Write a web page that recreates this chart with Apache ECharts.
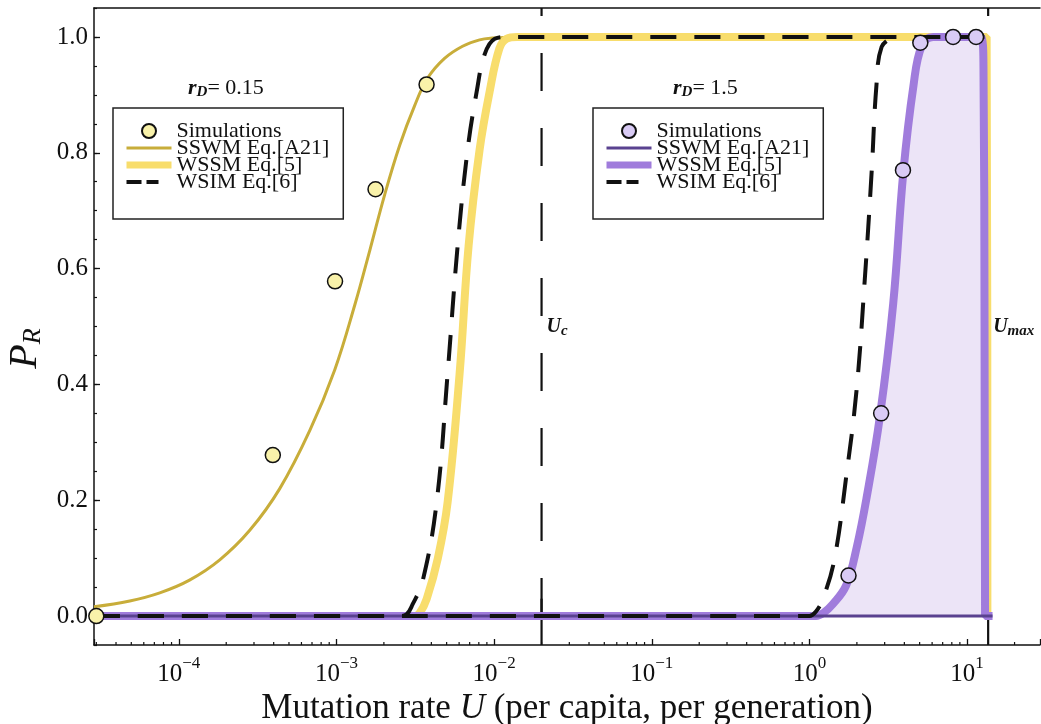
<!DOCTYPE html>
<html>
<head>
<meta charset="utf-8">
<script src="https://cdn.jsdelivr.net/npm/echarts@6/dist/echarts.min.js"></script>
<style>
  html, body { margin: 0; padding: 0; background: #fff; }
  #chart { width: 1041px; height: 724px; }
</style>
</head>
<body>
<div id="chart"></div>
<script>
const FONT = '"Liberation Serif", "DejaVu Serif", serif';

// axis ranges (U on a log axis, P_R linear)
const uMin = 2.9e-5;
const uMax = 29;
const pMin = -0.05;
const pMax = 1.05;
const Uc = 0.02;
const Umax = 13.6;

const yMajorTicks = [0, 0.2, 0.4, 0.6, 0.8, 1.0];

// r_D = 0.15 (yellow)
const sswmLowU = [2.9e-5, 4.89e-5, 7.58e-5, 1.17e-4, 1.82e-4, 2.82e-4, 4.37e-4, 6.77e-4, 9.75e-4, 1.31e-3,
  1.63e-3, 2.02e-3, 2.52e-3, 3.13e-3, 3.79e-3, 4.85e-3, 6.31e-3, 8.09e-3, 9.78e-3, 1.45e-2, 13.3, 13.5];
const sswmLowP = [0.016, 0.026, 0.040, 0.062, 0.097, 0.148, 0.22, 0.32, 0.425, 0.538,
  0.632, 0.727, 0.813, 0.881, 0.929, 0.963, 0.984, 0.995, 0.998, 1.0, 1.0, 0];

const wssmLowU = [2.9e-5, 3.13e-3, 3.37e-3, 3.74e-3, 4.4e-3, 5.07e-3, 6.04e-3, 6.89e-3, 8.09e-3, 9.36e-3,
  1.08e-2, 1.2e-2, 1.4e-2, 13.3, 13.45];
const wssmLowP = [0, 0, 0.005, 0.03, 0.10, 0.196, 0.418, 0.639, 0.805, 0.905,
  0.98, 0.997, 1.0, 1.0, 0];

const wsimLowU = [2.9e-5, 2.52e-3, 2.79e-3, 3.04e-3, 3.52e-3, 4.32e-3, 5.07e-3, 5.87e-3, 6.79e-3, 7.75e-3,
  8.71e-3, 1.01e-2, 1.2e-2, 13.6];
const wsimLowP = [0, 0, 0.003, 0.02, 0.06, 0.196, 0.418, 0.639, 0.805, 0.905,
  0.97, 0.997, 1.0, 1.0];

const simLowU = [3.0e-5, 3.95e-4, 9.8e-4, 1.77e-3, 3.73e-3];
const simLowP = [0, 0.278, 0.578, 0.737, 0.918];

// r_D = 1.5 (purple)
const sswmHighU = [2.9e-5, 14.5];
const sswmHighP = [0, 0];

const wssmHighU = [2.9e-5, 1.1, 1.22, 1.4, 1.71, 2.0, 2.3, 2.8, 3.4, 3.94,
  4.57, 5.16, 6.1, 8, 12.2, 12.7, 12.9, 13.0, 14.5];
const wssmHighP = [0, 0, 0.005, 0.02, 0.053, 0.12, 0.203, 0.345, 0.54, 0.766,
  0.916, 0.985, 1.0, 1.0, 1.0, 0.95, 0.5, 0, 0];

const wsimHighU = [2.9e-5, 1.0, 1.1, 1.22, 1.44, 1.71, 1.99, 2.24, 2.48, 2.66, 2.87, 3.4];
const wsimHighP = [0, 0, 0.008, 0.03, 0.098, 0.24, 0.39, 0.578, 0.766, 0.916, 0.983, 1.0];

const simHighU = [1.77, 2.85, 3.92, 5.05, 8.15, 11.4];
const simHighP = [0.07, 0.35, 0.77, 0.99, 1.0, 1.0];

const markerU = [Uc, Umax];
const markerLabels = ['{u|U}{s|c}', '{u|U}{s|max}'];

const legendLow = ['Simulations', 'SSWM Eq.[A21]', 'WSSM Eq.[5]', 'WSIM Eq.[6]'];
const legendHigh = legendLow.map(n => n + ' (rD=1.5)');

// minor ticks of the log axis: 2..9 in every decade
const minorTicks = [];
for (let e = -5; e <= 1; e++) {
  for (let k = 2; k <= 9; k++) {
    const v = k * Math.pow(10, e);
    if (v > uMin && v < uMax) minorTicks.push(v);
  }
}

const pair = (us, ps) => us.map((u, i) => [u, ps[i]]);

function curve(name, us, ps, color, width, extra) {
  return Object.assign({
    name, type: 'line', data: pair(us, ps), symbol: 'none',
    smooth: 0.4, silent: true,
    lineStyle: { color, width }, itemStyle: { color }
  }, extra || {});
}

function sims(name, us, ps, fill) {
  return {
    name, type: 'scatter', data: pair(us, ps), symbol: 'circle', symbolSize: 15, silent: true,
    itemStyle: { color: fill, borderColor: '#111', borderWidth: 1.5, opacity: 1 }, z: 5
  };
}

const dash = [26, 18];
const legendLineStyles = [null, { width: 3 }, { width: 7 }, { width: 4, type: [12, 14, 19, 5] }];

function legendBox(names, left) {
  return {
    orient: 'vertical', left, top: 108, selectedMode: false,
    padding: [12, 14, 26, 10], borderColor: '#222', borderWidth: 1.5,
    itemWidth: 45, itemHeight: 14, itemGap: -5, itemTextGap: 2,
    textStyle: { fontFamily: FONT, fontSize: 22, color: '#111' },
    formatter: n => n.split(' (')[0],
    data: names.map((n, i) => i === 0 ? { name: n }
      : { name: n, itemStyle: { opacity: 0 }, lineStyle: legendLineStyles[i] })
  };
}

const chart = echarts.init(document.getElementById('chart'), null, { renderer: 'canvas' });

chart.setOption({
  animation: false,
  backgroundColor: '#fff',
  grid: { left: 94, right: 1, top: 8, bottom: 79, outerBoundsMode: 'none' },
  legend: [legendBox(legendLow, 113), legendBox(legendHigh, 593)],
  xAxis: [{
    type: 'log', logBase: 10, min: uMin, max: uMax,
    name: 'Mutation rate {i|U} (per capita, per generation)',
    nameLocation: 'middle', nameGap: 46, nameMoveOverlap: false,
    nameTextStyle: { fontFamily: FONT, fontSize: 35, color: '#111',
      rich: { i: { fontFamily: FONT, fontSize: 35, fontStyle: 'italic', color: '#111' } } },
    axisLine: { onZero: false, lineStyle: { color: '#111', width: 1.5 } },
    axisTick: { inside: true, length: 6, lineStyle: { color: '#111', width: 1.3 } },
    axisLabel: {
      margin: 5, color: '#111',
      formatter: v => {
        const l = Math.log10(v);
        const e = Math.round(l);
        if (Math.abs(l - e) > 1e-6) return '';
        return '{b|10}{s|' + (e < 0 ? '\u2212' + (-e) : e) + '}';
      },
      rich: {
        b: { fontFamily: FONT, fontSize: 25, color: '#111', padding: [12, 0, 0, 0] },
        s: { fontFamily: FONT, fontSize: 17, color: '#111', padding: [0, 0, 10, 0] }
      }
    },
    splitLine: { show: false }
  }, {
    type: 'log', logBase: 10, min: uMin, max: uMax, position: 'top',
    axisLine: { onZero: false, lineStyle: { color: '#111', width: 1.5 } },
    axisTick: { show: false }, axisLabel: { show: false }, splitLine: { show: false }
  }],
  yAxis: [{
    type: 'value', min: pMin, max: pMax,
    name: '{p|P}{r|R}', nameLocation: 'middle', nameGap: 42,
    nameTextStyle: { padding: [0, 44, 0, 0], rich: {
      p: { fontFamily: FONT, fontSize: 40, fontStyle: 'italic', color: '#111' },
      r: { fontFamily: FONT, fontSize: 26, fontStyle: 'italic', color: '#111', padding: [14, 0, 0, 0] }
    } },
    axisLine: { onZero: false, lineStyle: { color: '#111', width: 1.5 } },
    axisTick: { inside: true, length: 6, customValues: yMajorTicks, lineStyle: { color: '#111', width: 1.3 } },
    axisLabel: { customValues: yMajorTicks, margin: 6, fontFamily: FONT, fontSize: 25, color: '#111',
      formatter: v => v.toFixed(1) },
    splitLine: { show: false }
  }, {
    type: 'value', min: pMin, max: pMax, interval: 0.05, position: 'left',
    axisLine: { show: false },
    axisTick: { inside: true, length: 3, lineStyle: { color: '#111', width: 1.2 } },
    axisLabel: { show: false }, splitLine: { show: false }
  }],
  graphic: [
    { type: 'text', x: 188, y: 88, style: { text: '{r|r}{d|D}{t|= 0.15}', verticalAlign: 'middle',
      rich: {
        r: { fontFamily: FONT, fontSize: 22, fontWeight: 'bold', fontStyle: 'italic', fill: '#111' },
        d: { fontFamily: FONT, fontSize: 15, fontWeight: 'bold', fontStyle: 'italic', fill: '#111', padding: [9, 0, 0, 0] },
        t: { fontFamily: FONT, fontSize: 22, fill: '#111' }
      } } },
    { type: 'text', x: 673, y: 88, style: { text: '{r|r}{d|D}{t|= 1.5}', verticalAlign: 'middle',
      rich: {
        r: { fontFamily: FONT, fontSize: 22, fontWeight: 'bold', fontStyle: 'italic', fill: '#111' },
        d: { fontFamily: FONT, fontSize: 15, fontWeight: 'bold', fontStyle: 'italic', fill: '#111', padding: [9, 0, 0, 0] },
        t: { fontFamily: FONT, fontSize: 22, fill: '#111' }
      } } }
  ],
  series: [
    curve(legendLow[1], sswmLowU, sswmLowP, '#c8ad3a', 3),
    curve(legendLow[2], wssmLowU, wssmLowP, '#f8dd6c', 8),
    curve(legendHigh[2], wssmHighU, wssmHighP, '#a07cdc', 8, { areaStyle: { color: '#ece4f7', opacity: 1 } }),
    curve(legendHigh[1], sswmHighU, sswmHighP, '#5a4290', 3, { smooth: false }),
    {
      name: 'markers', type: 'custom', silent: true, z: 3,
      data: markerU.map(u => [u, 0]),
      renderItem: (params, api) => {
        const u = api.value(0);
        const top = api.coord([u, pMax]);
        const bot = api.coord([u, pMin]);
        const low = api.coord([u, 0.03]);
        const mid = api.coord([u, 0.5]);
        return { type: 'group', children: [
          { type: 'line', shape: { x1: top[0], y1: top[1], x2: bot[0], y2: bot[1] },
            style: { stroke: '#111', lineWidth: 2.2, lineDash: [38, 37], lineDashOffset: 30 } },
          { type: 'line', shape: { x1: low[0], y1: low[1], x2: bot[0], y2: bot[1] },
            style: { stroke: '#111', lineWidth: 2.2 } },
          { type: 'text', x: mid[0] + 5, y: mid[1], style: {
            text: markerLabels[params.dataIndex], verticalAlign: 'middle',
            rich: {
              u: { fontFamily: FONT, fontSize: 20, fontWeight: 'bold', fontStyle: 'italic', fill: '#111' },
              s: { fontFamily: FONT, fontSize: 15, fontWeight: 'bold', fontStyle: 'italic', fill: '#111', padding: [9, 0, 0, 0] }
            } } }
        ] };
      }
    },
    curve(legendLow[3], wsimLowU, wsimLowP, '#111', 4, { lineStyle: { color: '#111', width: 4, type: dash }, z: 4 }),
    curve(legendHigh[3], wsimHighU, wsimHighP, '#111', 4, { lineStyle: { color: '#111', width: 4, type: dash }, z: 4 }),
    {
      name: 'minor', type: 'custom', silent: true, z: 6,
      data: minorTicks.map(v => [v, pMin]),
      renderItem: (params, api) => {
        const p = api.coord([api.value(0), pMin]);
        return { type: 'line', shape: { x1: p[0], y1: p[1], x2: p[0], y2: p[1] - 3 },
          style: { stroke: '#111', lineWidth: 1.2 } };
      }
    },
    sims(legendLow[0], simLowU, simLowP, '#f9f2aa'),
    sims(legendHigh[0], simHighU, simHighP, '#d9cbf5')
  ]
});
</script>
</body>
</html>
